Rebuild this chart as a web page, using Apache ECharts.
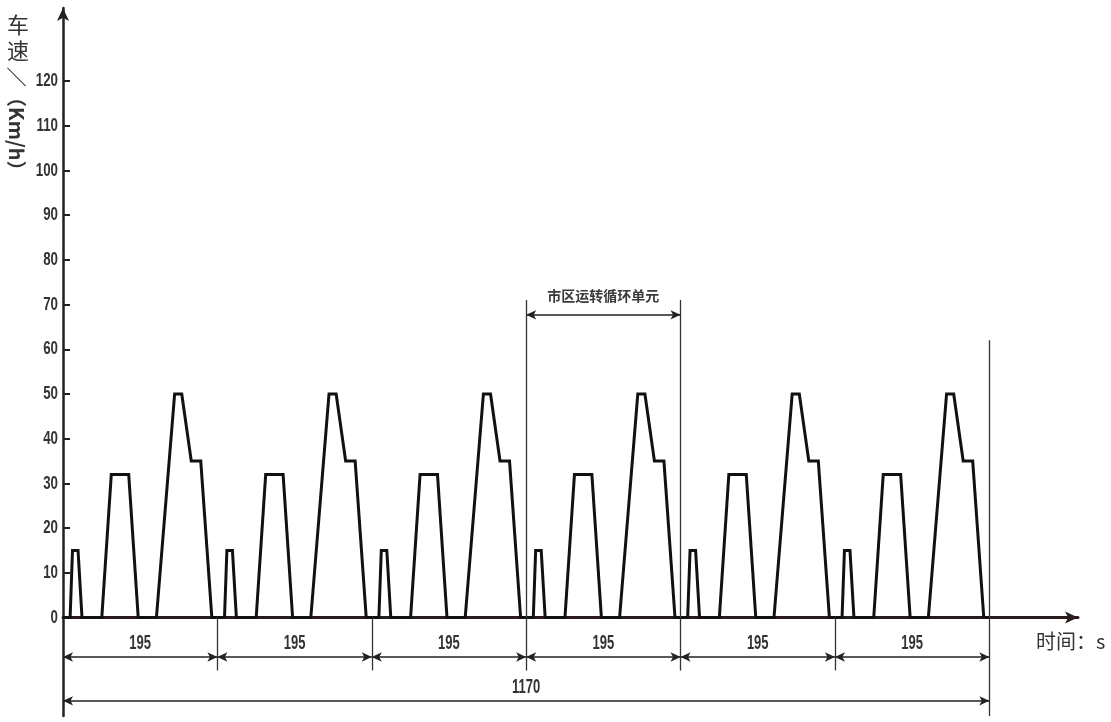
<!DOCTYPE html>
<html>
<head>
<meta charset="utf-8">
<script src="https://cdn.jsdelivr.net/npm/echarts@6/dist/echarts.min.js"></script>
<style>html,body{margin:0;padding:0;background:#fff;}#c{width:1111px;height:722px;}</style>
</head>
<body>
<div id="c"></div>
<script>
// one urban driving cycle: time (s) and speed (km/h)
const cycleTimes  = [0, 9, 12, 19, 24, 49, 61, 83, 95, 118, 141, 150, 162, 174, 188, 195];
const cycleSpeeds = [0, 0, 15, 15, 0, 0, 32, 32, 0, 0, 50, 50, 35, 35, 0, 0];
const cycleCount = 6;
const cycleLength = 195;
const yTickValues = [0, 10, 20, 30, 40, 50, 60, 70, 80, 90, 100, 110, 120];
const segmentLabel = '195';
const totalLabel = '1170';
const unitLabel = '市区运转循环单元';
const yName1 = '车\n速';
const yName2 = '／（Km/h）';
const xName = '时间：s';
const unitCycleIndex = 3; // the marked cycle (4th)

const NUM_FONT = "'Liberation Sans','Arimo',sans-serif";
const CJK_FONT = "'Noto Sans CJK SC','Noto Sans',sans-serif";

// build series points from the cycle arrays
const speedData = [];
for (let k = 0; k < cycleCount; k++) {
  for (let i = 0; i < cycleTimes.length; i++) {
    if (k > 0 && i === 0) continue;
    speedData.push([k * cycleLength + cycleTimes[i], cycleSpeeds[i]]);
  }
}
const total = cycleCount * cycleLength;

// annotation levels (in axis units)
const segY = -8.8, bndBottom = -11.8, totY = -18.6, unitY = 67.7, unitTop = 71, endTop = 62, yMin = -22, yMax = 136.3;

const dimLine = { color: '#222', width: 1.6, type: 'solid' };
const thinLine = { color: '#333', width: 1.3, type: 'solid' };
const arrowSize = [7, 10];
const marks = [];
for (let k = 0; k < cycleCount; k++) {
  marks.push([
    { coord: [k * cycleLength, segY], symbol: 'arrow', symbolSize: arrowSize, lineStyle: dimLine, label: { show: false } },
    { coord: [(k + 1) * cycleLength, segY], symbol: 'arrow', symbolSize: arrowSize }
  ]);
}
for (let k = 1; k < cycleCount; k++) {
  const top = (k === unitCycleIndex || k === unitCycleIndex + 1) ? unitTop : 0;
  marks.push([
    { coord: [k * cycleLength, top], symbol: 'none', lineStyle: thinLine, label: { show: false } },
    { coord: [k * cycleLength, bndBottom], symbol: 'none' }
  ]);
}
marks.push([
  { coord: [total, endTop], symbol: 'none', lineStyle: thinLine, label: { show: false } },
  { coord: [total, yMin], symbol: 'none' }
]);
marks.push([
  { coord: [0, totY], symbol: 'arrow', symbolSize: arrowSize, lineStyle: dimLine, label: { show: false } },
  { coord: [total, totY], symbol: 'arrow', symbolSize: arrowSize }
]);
marks.push([
  { coord: [unitCycleIndex * cycleLength, unitY], symbol: 'arrow', symbolSize: arrowSize, lineStyle: dimLine,
    label: { show: true, position: 'middle', formatter: unitLabel, distance: 12, fontSize: 14, fontWeight: 'bold',
      fontFamily: CJK_FONT, color: '#3a3a3a' } },
  { coord: [(unitCycleIndex + 1) * cycleLength, unitY], symbol: 'arrow', symbolSize: arrowSize }
]);

// condensed number labels placed through the axes
const tickLabelData = yTickValues.map(v => [0, v, String(v), 'y']);
const dimLabelData = [];
for (let k = 0; k < cycleCount; k++) dimLabelData.push([k * cycleLength + cycleLength / 2, segY, segmentLabel, 'd']);
dimLabelData.push([total / 2, totY, totalLabel, 'd']);

function renderNumber(params, api) {
  const p = api.coord([api.value(0), api.value(1)]);
  const kind = api.value(3);
  if (kind === 'y') {
    return { type: 'text', x: p[0] - 5, y: p[1], scaleX: 0.7,
      style: { text: api.value(2), fontSize: 19, fontWeight: 'bold', fontFamily: NUM_FONT, fill: '#333', align: 'right', verticalAlign: 'middle' } };
  }
  return { type: 'text', x: p[0], y: p[1] - 3, scaleX: 0.62,
    style: { text: api.value(2), fontSize: 21, fontWeight: 'bold', fontFamily: NUM_FONT, fill: '#333', align: 'center', verticalAlign: 'bottom' } };
}

const chart = echarts.init(document.getElementById('c'), null, { renderer: 'canvas' });
chart.setOption({
  animation: false,
  backgroundColor: '#fff',
  grid: { left: 63, right: 33, top: 8, bottom: 6, containLabel: false },
  xAxis: {
    type: 'value', min: 0, max: 1282,
    axisLine: { show: true, onZero: true, symbol: ['none', 'arrow'], symbolSize: [9, 13],
      lineStyle: { color: '#2a1c1c', width: 3 } },
    axisTick: { show: false }, axisLabel: { show: false }, splitLine: { show: false }
  },
  yAxis: {
    type: 'value', min: yMin, max: yMax,
    axisLine: { show: true, onZero: false, symbol: ['none', 'arrow'], symbolSize: [9, 13],
      lineStyle: { color: '#222', width: 2.5 } },
    axisTick: { show: true, inside: true, length: 7, customValues: yTickValues,
      lineStyle: { color: '#222', width: 2 } },
    axisLabel: { show: false },
    splitLine: { show: false }
  },
  series: [{
    type: 'line',
    data: speedData,
    symbol: 'none',
    lineStyle: { color: '#111', width: 3, join: 'miter' },
    silent: true,
    clip: false,
    markLine: { silent: true, symbol: 'none', animation: false, precision: 2, data: marks }
  }, {
    type: 'custom',
    data: tickLabelData.concat(dimLabelData),
    renderItem: renderNumber,
    clip: false,
    silent: true,
    encode: { x: 0, y: 1 }
  }],
  graphic: [
    { type: 'text', x: 18, y: 38, style: { text: yName1, fontSize: 22, lineHeight: 26, fontFamily: CJK_FONT,
        fill: '#333', align: 'center', verticalAlign: 'middle' } },
    { type: 'text', x: 17, y: 67, rotation: -Math.PI / 2,
      style: { text: yName2, fontSize: 20, fontWeight: 'bold', fontFamily: CJK_FONT, fill: '#333', align: 'left', verticalAlign: 'middle' } },
    { type: 'text', x: 1036, y: 641, style: { text: xName, fontSize: 20, fontFamily: CJK_FONT, fill: '#333',
        align: 'left', verticalAlign: 'middle' } }
  ]
});
</script>
</body>
</html>
